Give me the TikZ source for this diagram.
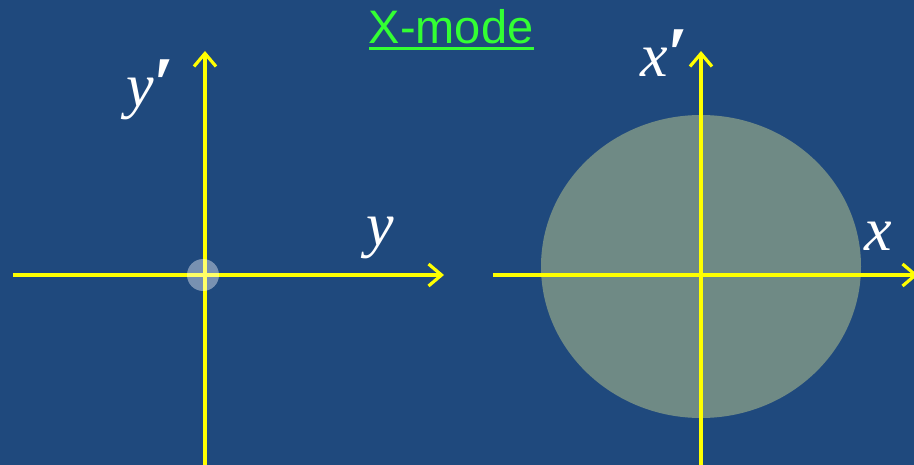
\documentclass[tikz,border=0pt]{standalone}
\usepackage{fontspec}
\setmainfont{Liberation Serif}
\newfontfamily\titlefont{Liberation Sans}
\usetikzlibrary{arrows.meta,shapes.geometric}
\definecolor{bgblue}{HTML}{1F497D}
\definecolor{axisyellow}{HTML}{FFFF00}
\definecolor{titlegreen}{HTML}{33FF33}
\definecolor{beamgray}{HTML}{6F8A85}
\newcommand{\bigprime}{\kern-1pt\raisebox{-3pt}{\fontsize{76}{76}\selectfont\bfseries\itshape ′}}
\begin{document}
\begin{tikzpicture}[x=1pt,y=-1pt,
  axis/.style={draw=axisyellow,line width=3.2pt,-{Straight Barb[length=13pt,width=22pt,line width=3.2pt]}},
  lbl/.style={text=white,font=\fontsize{62}{62}\selectfont\itshape,inner sep=0pt}]
\fill[bgblue] (0,0) rectangle (914,465);
\useasboundingbox (0,0) rectangle (914,465);
% title
\node[font=\titlefont\fontsize{47}{47}\selectfont,text=titlegreen,inner sep=0pt] (title) at (451,27) {X-mode};
\draw[titlegreen,line width=3pt] (369,49) -- (534,49);
% left panel
\coordinate (lw) at (13,275);
\coordinate (le) at (444,275);
\coordinate (ls) at (205,465);
\coordinate (ln) at (205,51);
\draw[axis] (lw) -- (le);
\draw[axis] (ls) -- (ln);
\fill[white,opacity=0.4] (203,275) circle (16);
\node[lbl] (yp) at (150,90) {y\bigprime};
\node[lbl] (y) at (380,238) {y};
% right panel
\node[ellipse,fill=beamgray,minimum width=320,minimum height=303,inner sep=0pt] (beam) at (701,266.5) {};
\coordinate (rw) at (493,275);
\coordinate (re) at (918,275);
\coordinate (rs) at (701,465);
\coordinate (rn) at (701,51);
\draw[axis] (rw) -- (re);
\draw[axis] (rs) -- (rn);
\node[lbl] (xp) at (664,55) {x\bigprime};
\node[lbl] (x) at (878,236) {x};
\end{tikzpicture}
\end{document}
